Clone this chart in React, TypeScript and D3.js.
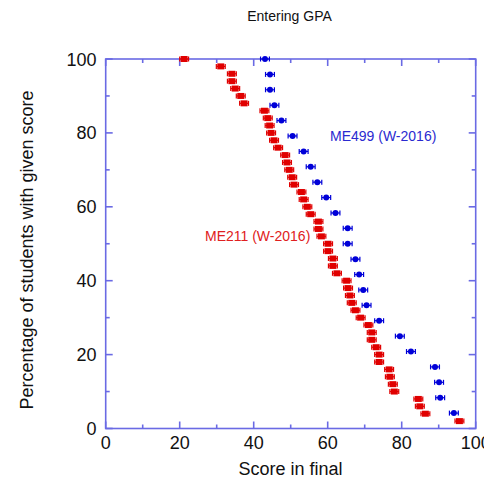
import React from "react";
import * as d3 from "d3";

const title = "Entering GPA";
const xLabel = "Score in final";
const yLabel = "Percentage of students with given score";
const xTicks = [0, 20, 40, 60, 80, 100];
const yTicks = [0, 20, 40, 60, 80, 100];
const minorTicks = [10, 30, 50, 70, 90];

const redName = "ME211 (W-2016)";
const redX = [21.2, 31.1, 34.1, 34.1, 35.0, 36.5, 37.4, 42.9, 43.8, 44.3, 44.7, 45.5, 46.6, 48.5, 49.0, 49.6, 50.4, 50.9, 52.9, 53.5, 54.5, 55.4, 57.5, 57.5, 58.3, 60.1, 60.1, 61.4, 61.4, 62.5, 65.1, 65.5, 66.0, 66.5, 67.5, 68.9, 71.0, 71.9, 71.9, 73.1, 73.9, 73.9, 76.6, 76.8, 77.6, 78.0, 84.5, 84.9, 86.4, 95.6];
const redY = [100, 98, 96, 94, 92, 90, 88, 86, 84, 82, 80, 78, 76, 74, 72, 70, 68, 66, 64, 62, 60, 58, 56, 54, 52, 50, 48, 46, 44, 42, 40, 38, 36, 34, 32, 30, 28, 26, 24, 22, 20, 18, 16, 14, 12, 10, 8, 6, 4, 2];

const blueName = "ME499 (W-2016)";
const blueX = [43.05, 44.4, 44.4, 45.6, 47.5, 50.5, 53.5, 55.4, 57.2, 59.6, 62.1, 65.4, 65.4, 67.5, 68.5, 69.6, 70.5, 73.9, 79.5, 82.5, 89.0, 90.1, 90.4, 94.1];
const blueY = [100, 95.83, 91.67, 87.5, 83.33, 79.17, 75, 70.83, 66.67, 62.5, 58.33, 54.17, 50, 45.83, 41.67, 37.5, 33.33, 29.17, 25, 20.83, 16.67, 12.5, 8.33, 4.17];

const xErr = 1.2;

const W = 484;
const H = 480;
const L = 105.7, R = 475.7, T = 59, B = 428.5;
const FONT = "'Liberation Sans', Arial, Helvetica, sans-serif";
const AXIS = "#6a6ae4";
const RED = "#e00000";
const BLUE = "#0000d8";

export default function App() {
  const x = d3.scaleLinear().domain([0, 100]).range([L, R]);
  const y = d3.scaleLinear().domain([0, 100]).range([B, T]);

  const redPts = redX.map((v, i) => ({ x: v, y: redY[i] }));
  const bluePts = blueX.map((v, i) => ({ x: v, y: blueY[i] }));

  const errBar = (px: number, py: number, color: string, key: string) => {
    const x0 = x(px - xErr), x1 = x(px + xErr);
    return (
      <g key={key} stroke={color} strokeWidth={1.2}>
        <line x1={x0} x2={x1} y1={py} y2={py} />
        <line x1={x0} x2={x0} y1={py - 2.5} y2={py + 2.5} />
        <line x1={x1} x2={x1} y1={py - 2.5} y2={py + 2.5} />
      </g>
    );
  };

  return (
    <svg width={W} height={H} style={{ position: "absolute", left: 0, top: 0 }} fontFamily={FONT}>
      <rect x={0} y={0} width={W} height={H} fill="#fff" />
      <text x={289.5} y={21} fontSize={14} textAnchor="middle" fill="#111">{title}</text>

      {/* frame */}
      <rect x={L} y={T} width={R - L} height={B - T} fill="none" stroke={AXIS} strokeWidth={1.6} />
      {xTicks.map((t) => (
        <g key={"xt" + t} stroke={AXIS} strokeWidth={1.6}>
          <line x1={x(t)} x2={x(t)} y1={B} y2={B - 7} />
          <line x1={x(t)} x2={x(t)} y1={T} y2={T + 7} />
        </g>
      ))}
      {minorTicks.map((t) => (
        <g key={"xm" + t} stroke={AXIS} strokeWidth={1.6}>
          <line x1={x(t)} x2={x(t)} y1={B} y2={B - 4} />
          <line x1={x(t)} x2={x(t)} y1={T} y2={T + 4} />
        </g>
      ))}
      {yTicks.map((t) => (
        <g key={"yt" + t} stroke={AXIS} strokeWidth={1.6}>
          <line x1={L} x2={L + 7} y1={y(t)} y2={y(t)} />
          <line x1={R} x2={R - 7} y1={y(t)} y2={y(t)} />
        </g>
      ))}
      {minorTicks.map((t) => (
        <g key={"ym" + t} stroke={AXIS} strokeWidth={1.6}>
          <line x1={L} x2={L + 4} y1={y(t)} y2={y(t)} />
          <line x1={R} x2={R - 4} y1={y(t)} y2={y(t)} />
        </g>
      ))}

      {xTicks.map((t) => (
        <text key={"xl" + t} x={x(t)} y={448.5} fontSize={18} textAnchor="middle" fill="#111">{t}</text>
      ))}
      {yTicks.map((t) => (
        <text key={"yl" + t} x={96.5} y={y(t) + 6.5} fontSize={18} textAnchor="end" fill="#111">{t}</text>
      ))}

      <text x={290.5} y={475} fontSize={18} textAnchor="middle" fill="#111">{xLabel}</text>
      <text transform={`translate(33,250) rotate(-90)`} fontSize={18} textAnchor="middle" fill="#111">{yLabel}</text>

      {/* red series */}
      {redPts.map((p, i) => {
        const px = x(p.x), py = y(p.y);
        return (
          <g key={"r" + i}>
            {errBar(p.x, py, RED, "re" + i)}
            <rect x={px - 3.5} y={py - 3} width={7} height={6} fill={RED} />
          </g>
        );
      })}

      {/* blue series */}
      {bluePts.map((p, i) => {
        const px = x(p.x), py = y(p.y);
        return (
          <g key={"b" + i}>
            {errBar(p.x, py, BLUE, "be" + i)}
            <circle cx={px} cy={py} r={3} fill={BLUE} />
          </g>
        );
      })}

      <text x={330} y={141} fontSize={14} fill="#2a2ad0">{blueName}</text>
      <text x={205} y={241} fontSize={14} fill="#e02020">{redName}</text>
    </svg>
  );
}
